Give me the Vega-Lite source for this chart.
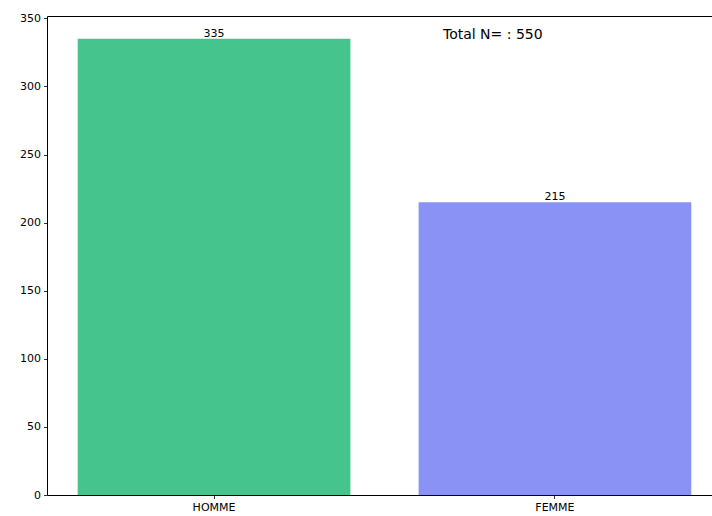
{
  "$schema": "https://vega.github.io/schema/vega-lite/v6.json",
  "autosize": {"type": "none"},
  "padding": {"left": 47, "top": 16, "right": 0, "bottom": 21},
  "width": 675,
  "height": 479,
  "config": {
    "view": {"stroke": null},
    "font": "DejaVu Sans",
    "axis": {
      "domainColor": "#000000",
      "domainWidth": 1,
      "tickColor": "#000000",
      "tickSize": 3.5,
      "tickWidth": 0.8,
      "labelColor": "#000000",
      "labelFont": "DejaVu Sans",
      "labelFontSize": 11,
      "labelPadding": 3,
      "grid": false,
      "title": null
    }
  },
  "data": {
    "values": [
      {"sexe": "HOMME", "n": 335},
      {"sexe": "FEMME", "n": 215}
    ]
  },
  "resolve": {"axis": {"x": "independent"}},
  "layer": [
    {
      "mark": {"type": "bar"},
      "encoding": {
        "x": {
          "field": "sexe",
          "type": "nominal",
          "scale": {"domain": ["HOMME", "FEMME"], "paddingInner": 0.2, "paddingOuter": 0.09},
          "axis": {"labelAngle": 0, "orient": "bottom"}
        },
        "y": {
          "field": "n",
          "type": "quantitative",
          "scale": {"domain": [0, 351.75], "nice": false},
          "axis": {"values": [0, 50, 100, 150, 200, 250, 300, 350]}
        },
        "color": {
          "field": "sexe",
          "type": "nominal",
          "scale": {"domain": ["HOMME", "FEMME"], "range": ["#45C48D", "#8A93F5"]},
          "legend": null
        }
      }
    },
    {
      "mark": {"type": "text", "baseline": "bottom", "fontSize": 11, "color": "#000000"},
      "encoding": {
        "x": {"field": "sexe", "type": "nominal", "axis": null},
        "y": {"field": "n", "type": "quantitative"},
        "text": {"field": "n", "type": "quantitative"}
      }
    },
    {
      "data": {"values": [{"label": "Total N= : 550", "sexe": "FEMME", "yv": 338}]},
      "mark": {"type": "text", "align": "left", "baseline": "middle", "fontSize": 14, "color": "#000000", "dx": -112},
      "encoding": {
        "x": {"field": "sexe", "type": "nominal", "axis": {"orient": "top", "labels": false, "ticks": false, "domain": true}},
        "y": {"field": "yv", "type": "quantitative"},
        "text": {"field": "label"}
      }
    }
  ]
}
